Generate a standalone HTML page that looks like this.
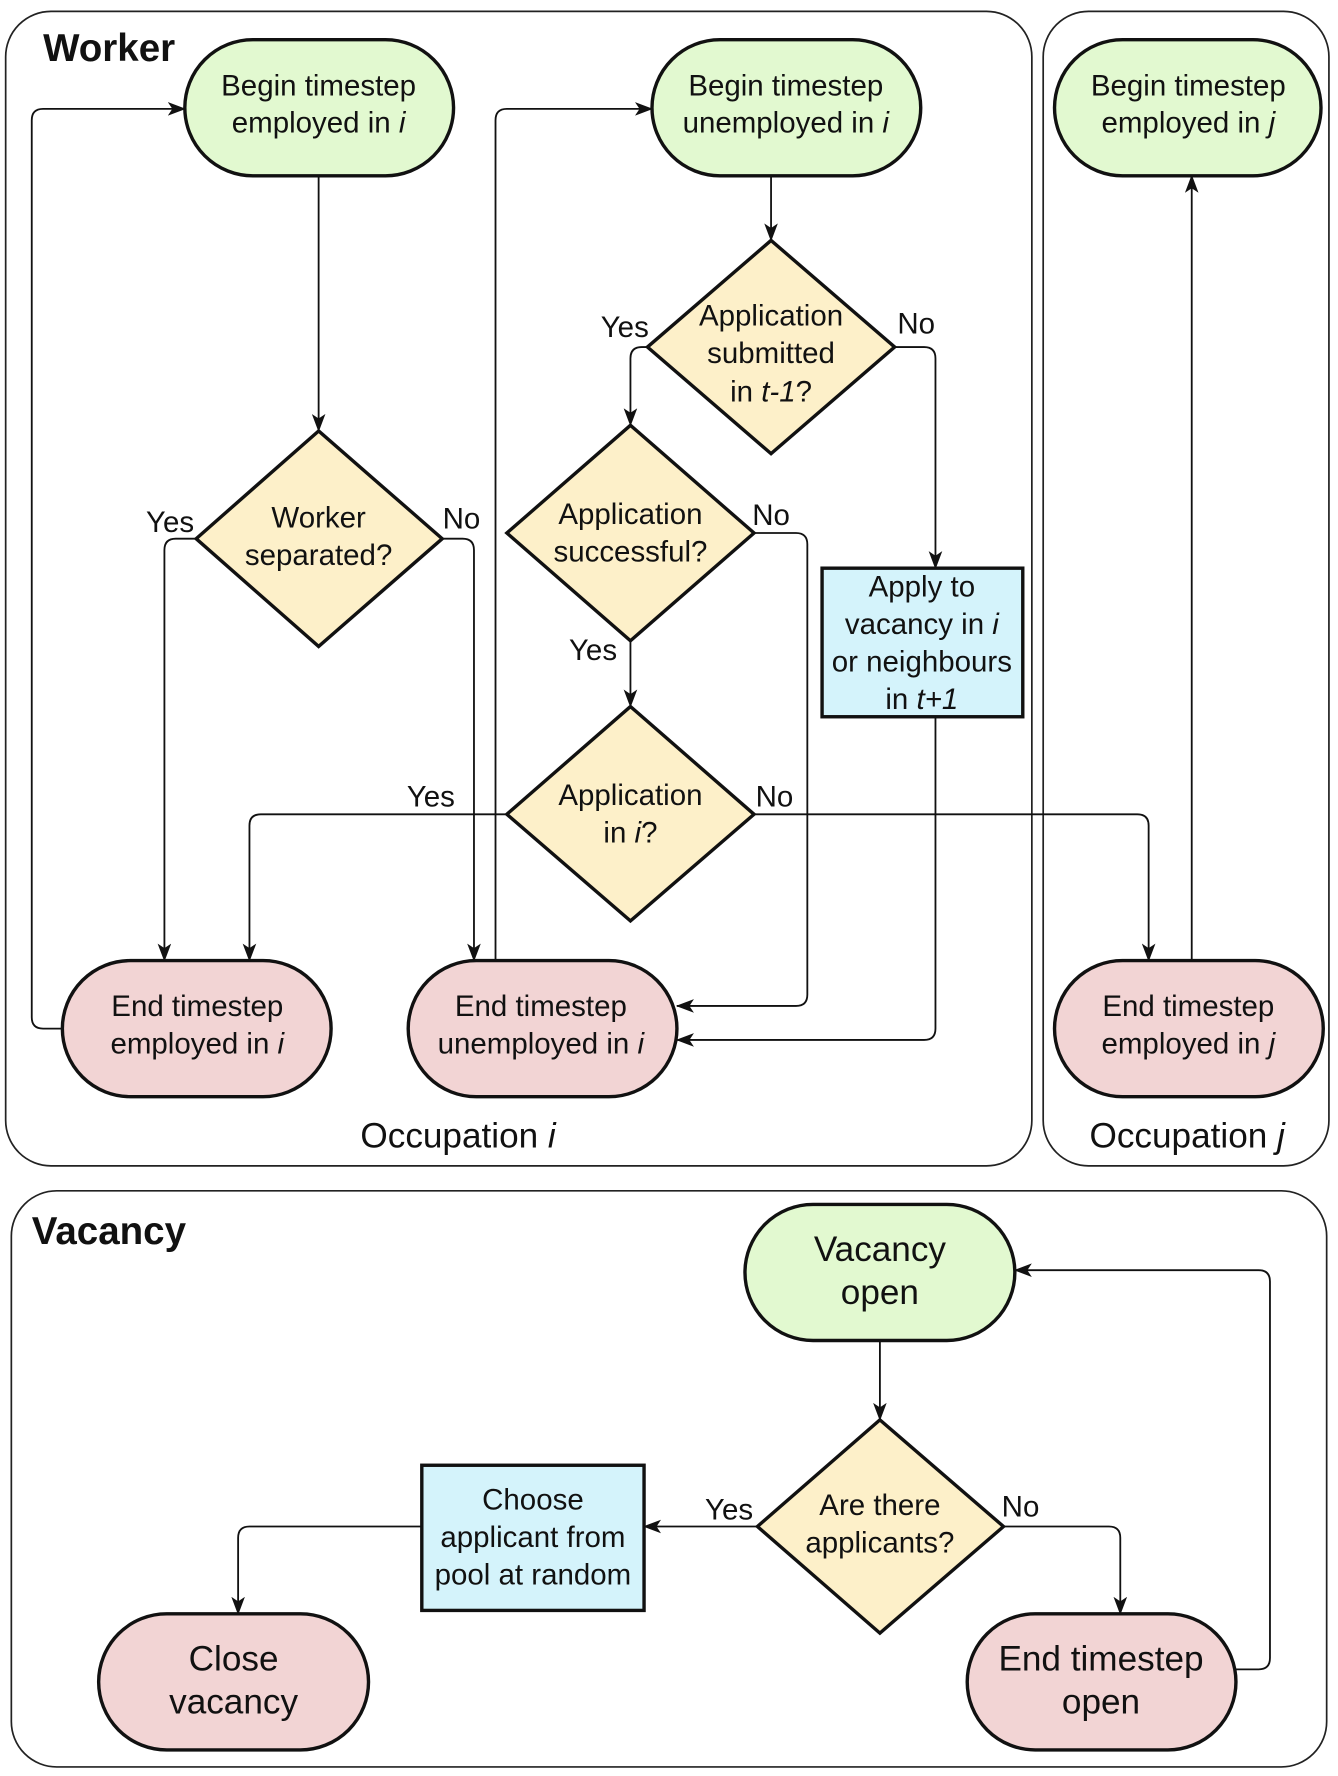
<!DOCTYPE html>
<html><head><meta charset="utf-8"><style>
html,body{margin:0;padding:0;background:#fff}
svg{display:block}
text{font-family:"Liberation Sans",sans-serif;fill:#111}
</style></head><body>
<svg width="1338" height="1776" viewBox="0 0 1180 1566" preserveAspectRatio="none" xmlns="http://www.w3.org/2000/svg">
<defs>
<marker id="a" markerWidth="16" markerHeight="12" refX="15" refY="6" orient="auto" markerUnits="userSpaceOnUse">
<path d="M0,0 L16,6 L0,12 L4,6 z" fill="#111"/>
</marker>
</defs>
<g fill="none" stroke="#222" stroke-width="1.5">
<rect x="5" y="10" width="905" height="1018" rx="40"/>
<rect x="920" y="10" width="252" height="1018" rx="40"/>
<rect x="10" y="1050" width="1160" height="508" rx="40"/>
</g>
<g fill="none" stroke="#111" stroke-width="1.6" marker-end="url(#a)">
<path d="M281,155 V380"/>
<path d="M173,475 H155 Q145,475 145,485 V847"/>
<path d="M390,475 H408 Q418,475 418,485 V847"/>
<path d="M55,907 H38 Q28,907 28,897 V106 Q28,96 38,96 H163"/>
<path d="M437,847 V106 Q437,96 447,96 H575"/>
<path d="M680,155 V212"/>
<path d="M571,306 H566 Q556,306 556,316 V375"/>
<path d="M789,306 H815 Q825,306 825,316 V501"/>
<path d="M665,470 H702 Q712,470 712,480 V877 Q712,887 702,887 H597"/>
<path d="M556,565 V623"/>
<path d="M447,718 H230 Q220,718 220,728 V847"/>
<path d="M665,718 H1003 Q1013,718 1013,728 V847"/>
<path d="M825,632 V907 Q825,917 815,917 H597"/>
<path d="M1051,847 V155"/>
<path d="M776,1182 V1252"/>
<path d="M668,1346 H568"/>
<path d="M372,1346 H220 Q210,1346 210,1356 V1423"/>
<path d="M885,1346 H978 Q988,1346 988,1356 V1423"/>
<path d="M1090,1472 H1110 Q1120,1472 1120,1462 V1130 Q1120,1120 1110,1120 H895"/>
</g>
<g stroke="#111" stroke-width="3">
<rect x="163" y="35" width="237" height="120" rx="60" fill="#e2f9d0"/>
<rect x="575" y="35" width="237" height="120" rx="60" fill="#e2f9d0"/>
<rect x="930" y="35" width="235" height="120" rx="60" fill="#e2f9d0"/>
<rect x="55" y="847" width="237" height="120" rx="60" fill="#f2d4d4"/>
<rect x="360" y="847" width="237" height="120" rx="60" fill="#f2d4d4"/>
<rect x="930" y="847" width="237" height="120" rx="60" fill="#f2d4d4"/>
<rect x="657" y="1062" width="238" height="120" rx="60" fill="#e2f9d0"/>
<rect x="87" y="1423" width="238" height="120" rx="60" fill="#f2d4d4"/>
<rect x="853" y="1423" width="237" height="120" rx="60" fill="#f2d4d4"/>
<polygon points="281,380 390,475 281,570 173,475" fill="#fdf0c9"/>
<polygon points="680,212 789,306 680,400 571,306" fill="#fdf0c9"/>
<polygon points="556,375 665,470 556,565 447,470" fill="#fdf0c9"/>
<polygon points="556,623 665,718 556,812 447,718" fill="#fdf0c9"/>
<polygon points="776,1252 885,1346 776,1440 668,1346" fill="#fdf0c9"/>
<rect x="725" y="501" width="177" height="131" fill="#d4f3fb"/>
<rect x="372" y="1292" width="196" height="128" fill="#d4f3fb"/>
</g>
<g font-size="26" text-anchor="middle">
<text x="281" y="84">Begin timestep</text><text x="281" y="117">employed in <tspan font-style="italic">i</tspan></text>
<text x="693" y="84">Begin timestep</text><text x="693" y="117">unemployed in <tspan font-style="italic">i</tspan></text>
<text x="1048" y="84">Begin timestep</text><text x="1048" y="117">employed in <tspan font-style="italic">j</tspan></text>
<text x="174" y="896">End timestep</text><text x="174" y="929">employed in <tspan font-style="italic">i</tspan></text>
<text x="477" y="896">End timestep</text><text x="477" y="929">unemployed in <tspan font-style="italic">i</tspan></text>
<text x="1048" y="896">End timestep</text><text x="1048" y="929">employed in <tspan font-style="italic">j</tspan></text>
<text x="281" y="465">Worker</text><text x="281" y="498">separated?</text>
<text x="680" y="287">Application</text><text x="680" y="320">submitted</text><text x="680" y="354">in <tspan font-style="italic">t-1</tspan>?</text>
<text x="556" y="462">Application</text><text x="556" y="495">successful?</text>
<text x="556" y="710">Application</text><text x="556" y="743">in <tspan font-style="italic">i</tspan>?</text>
<text x="813" y="526">Apply to</text><text x="813" y="559">vacancy in <tspan font-style="italic">i</tspan></text><text x="813" y="592">or neighbours</text><text x="813" y="625">in <tspan font-style="italic">t+1</tspan></text>
<text x="776" y="1336">Are there</text><text x="776" y="1369">applicants?</text>
<text x="470" y="1331">Choose</text><text x="470" y="1364">applicant from</text><text x="470" y="1397">pool at random</text>
<text x="150" y="469">Yes</text><text x="407" y="466">No</text>
<text x="551" y="297">Yes</text><text x="808" y="294">No</text>
<text x="680" y="463">No</text><text x="523" y="582">Yes</text>
<text x="380" y="711">Yes</text><text x="683" y="711">No</text>
<text x="643" y="1340">Yes</text><text x="900" y="1337">No</text>
</g>
<g font-size="31" text-anchor="middle">
<text x="776" y="1112">Vacancy</text><text x="776" y="1150">open</text>
<text x="206" y="1473">Close</text><text x="206" y="1511">vacancy</text>
<text x="971" y="1473">End timestep</text><text x="971" y="1511">open</text>
<text x="404" y="1012">Occupation <tspan font-style="italic">i</tspan></text>
<text x="1047" y="1012">Occupation <tspan font-style="italic">j</tspan></text>
</g>
<text x="38" y="54" font-size="34" font-weight="bold">Worker</text>
<text x="28" y="1097" font-size="34" font-weight="bold">Vacancy</text>
</svg>
</body></html>
